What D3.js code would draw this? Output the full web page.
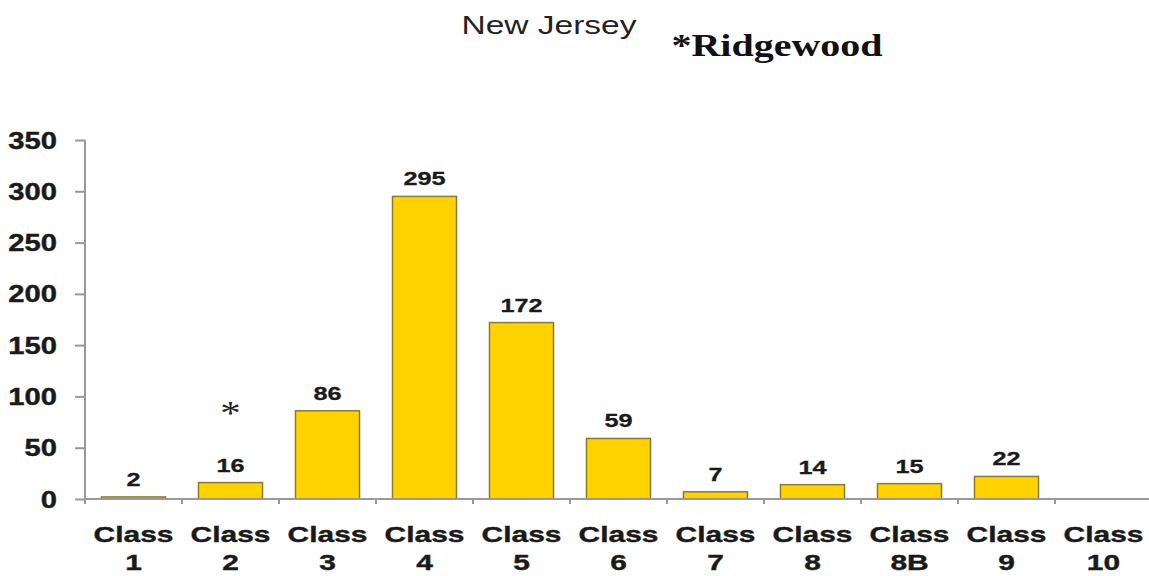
<!DOCTYPE html>
<html><head><meta charset="utf-8">
<script src="https://cdn.jsdelivr.net/npm/d3@7"></script>
<style>body{margin:0;background:#fff}svg{display:block}</style>
</head><body>
<svg id="c" width="1149" height="576"></svg>
<script>
const categories = ["Class 1","Class 2","Class 3","Class 4","Class 5","Class 6","Class 7","Class 8","Class 8B","Class 9","Class 10"];
const values = [2,16,86,295,172,59,7,14,15,22,null];
const yTicks = [0,50,100,150,200,250,300,350];
const title = "New Jersey";
const subtitle = "*Ridgewood";
const markedCategory = "Class 2";

const svg = d3.select("#c");
const x = d3.scaleBand().domain(categories).range([85, 1152]).paddingInner(0.34).paddingOuter(0.17);
const y = d3.scaleLinear().domain([0,350]).range([499,140]);

function stext(g, px, py, str, opts) {
  const sx = opts.sx || 1.33;
  return g.append("text")
    .attr("transform", `translate(${px},${py}) scale(${sx},1)`)
    .attr("text-anchor", opts.anchor || "middle")
    .attr("font-family", opts.family || "Liberation Sans, Arial, sans-serif")
    .attr("font-weight", opts.weight || "bold")
    .attr("font-size", opts.size)
    .attr("fill", opts.fill || "#1a1a1a")
    .attr("stroke", opts.stroke || "none")
    .attr("stroke-width", opts.sw || 0)
    .text(str);
}

// titles
stext(svg, 549, 34, title, {size: 25, weight: "normal", fill: "#222", sx: 1.34});
stext(svg, 777, 56, subtitle, {size: 31, family: "Liberation Serif, Times New Roman, serif", fill: "#111", sx: 1.29});

// y axis
const yAxis = svg.append("g").attr("transform", "translate(85,0)")
  .call(d3.axisLeft(y).tickValues(yTicks).tickSize(10).tickFormat(""));
yAxis.select(".domain").attr("stroke", "#999").attr("stroke-width", 2).attr("d", `M0,${y(350)}V${y(0)}`);
yAxis.selectAll(".tick line").attr("stroke", "#999").attr("stroke-width", 2);
yTicks.forEach(t => stext(svg, 57, y(t) + 8.5, String(t), {size: 23, anchor: "end", sx: 1.27, stroke: "#1a1a1a", sw: 0.4}));

// bars
const data = categories.map((c,i) => ({c, v: values[i]})).filter(d => d.v != null);
svg.append("g").selectAll("rect").data(data).join("rect")
  .attr("x", d => x(d.c)).attr("width", x.bandwidth())
  .attr("y", d => y(d.v)).attr("height", d => y(0) - y(d.v))
  .attr("fill", "#FFD200").attr("stroke", "#8a7a35").attr("stroke-width", 1.5);

// x axis
const xg = svg.append("g").attr("transform", `translate(0,${y(0)})`);
xg.append("line").attr("x1", 85).attr("x2", 1152).attr("stroke", "#999").attr("stroke-width", 2);
const bounds = d3.range(categories.length + 1).map(i => 85 + i * x.step() * (1 - 0) );
xg.selectAll("line.tk").data(bounds).join("line").attr("class","tk")
  .attr("x1", d => d).attr("x2", d => d).attr("y1", 0).attr("y2", 5)
  .attr("stroke", "#999").attr("stroke-width", 2);

// value labels
data.forEach(d => stext(svg, x(d.c) + x.bandwidth()/2, y(d.v) - 11, String(d.v), {size: 19, stroke: "#1a1a1a", sw: 0.3}));

// category labels
categories.forEach(c => {
  const parts = c.split(" ");
  const cx = x(c) + x.bandwidth()/2;
  stext(svg, cx, 542, parts[0], {size: 22, sx: 1.36, stroke: "#1a1a1a", sw: 0.4});
  stext(svg, cx, 570, parts[1], {size: 22, sx: 1.36, stroke: "#1a1a1a", sw: 0.4});
});

// asterisk marker
const mv = values[categories.indexOf(markedCategory)];
stext(svg, x(markedCategory) + x.bandwidth()/2, y(mv) - 59, "*", {size: 34, weight: "normal", family: "Liberation Serif, serif", fill: "#222", sx: 1.2});
</script>
</body></html>
